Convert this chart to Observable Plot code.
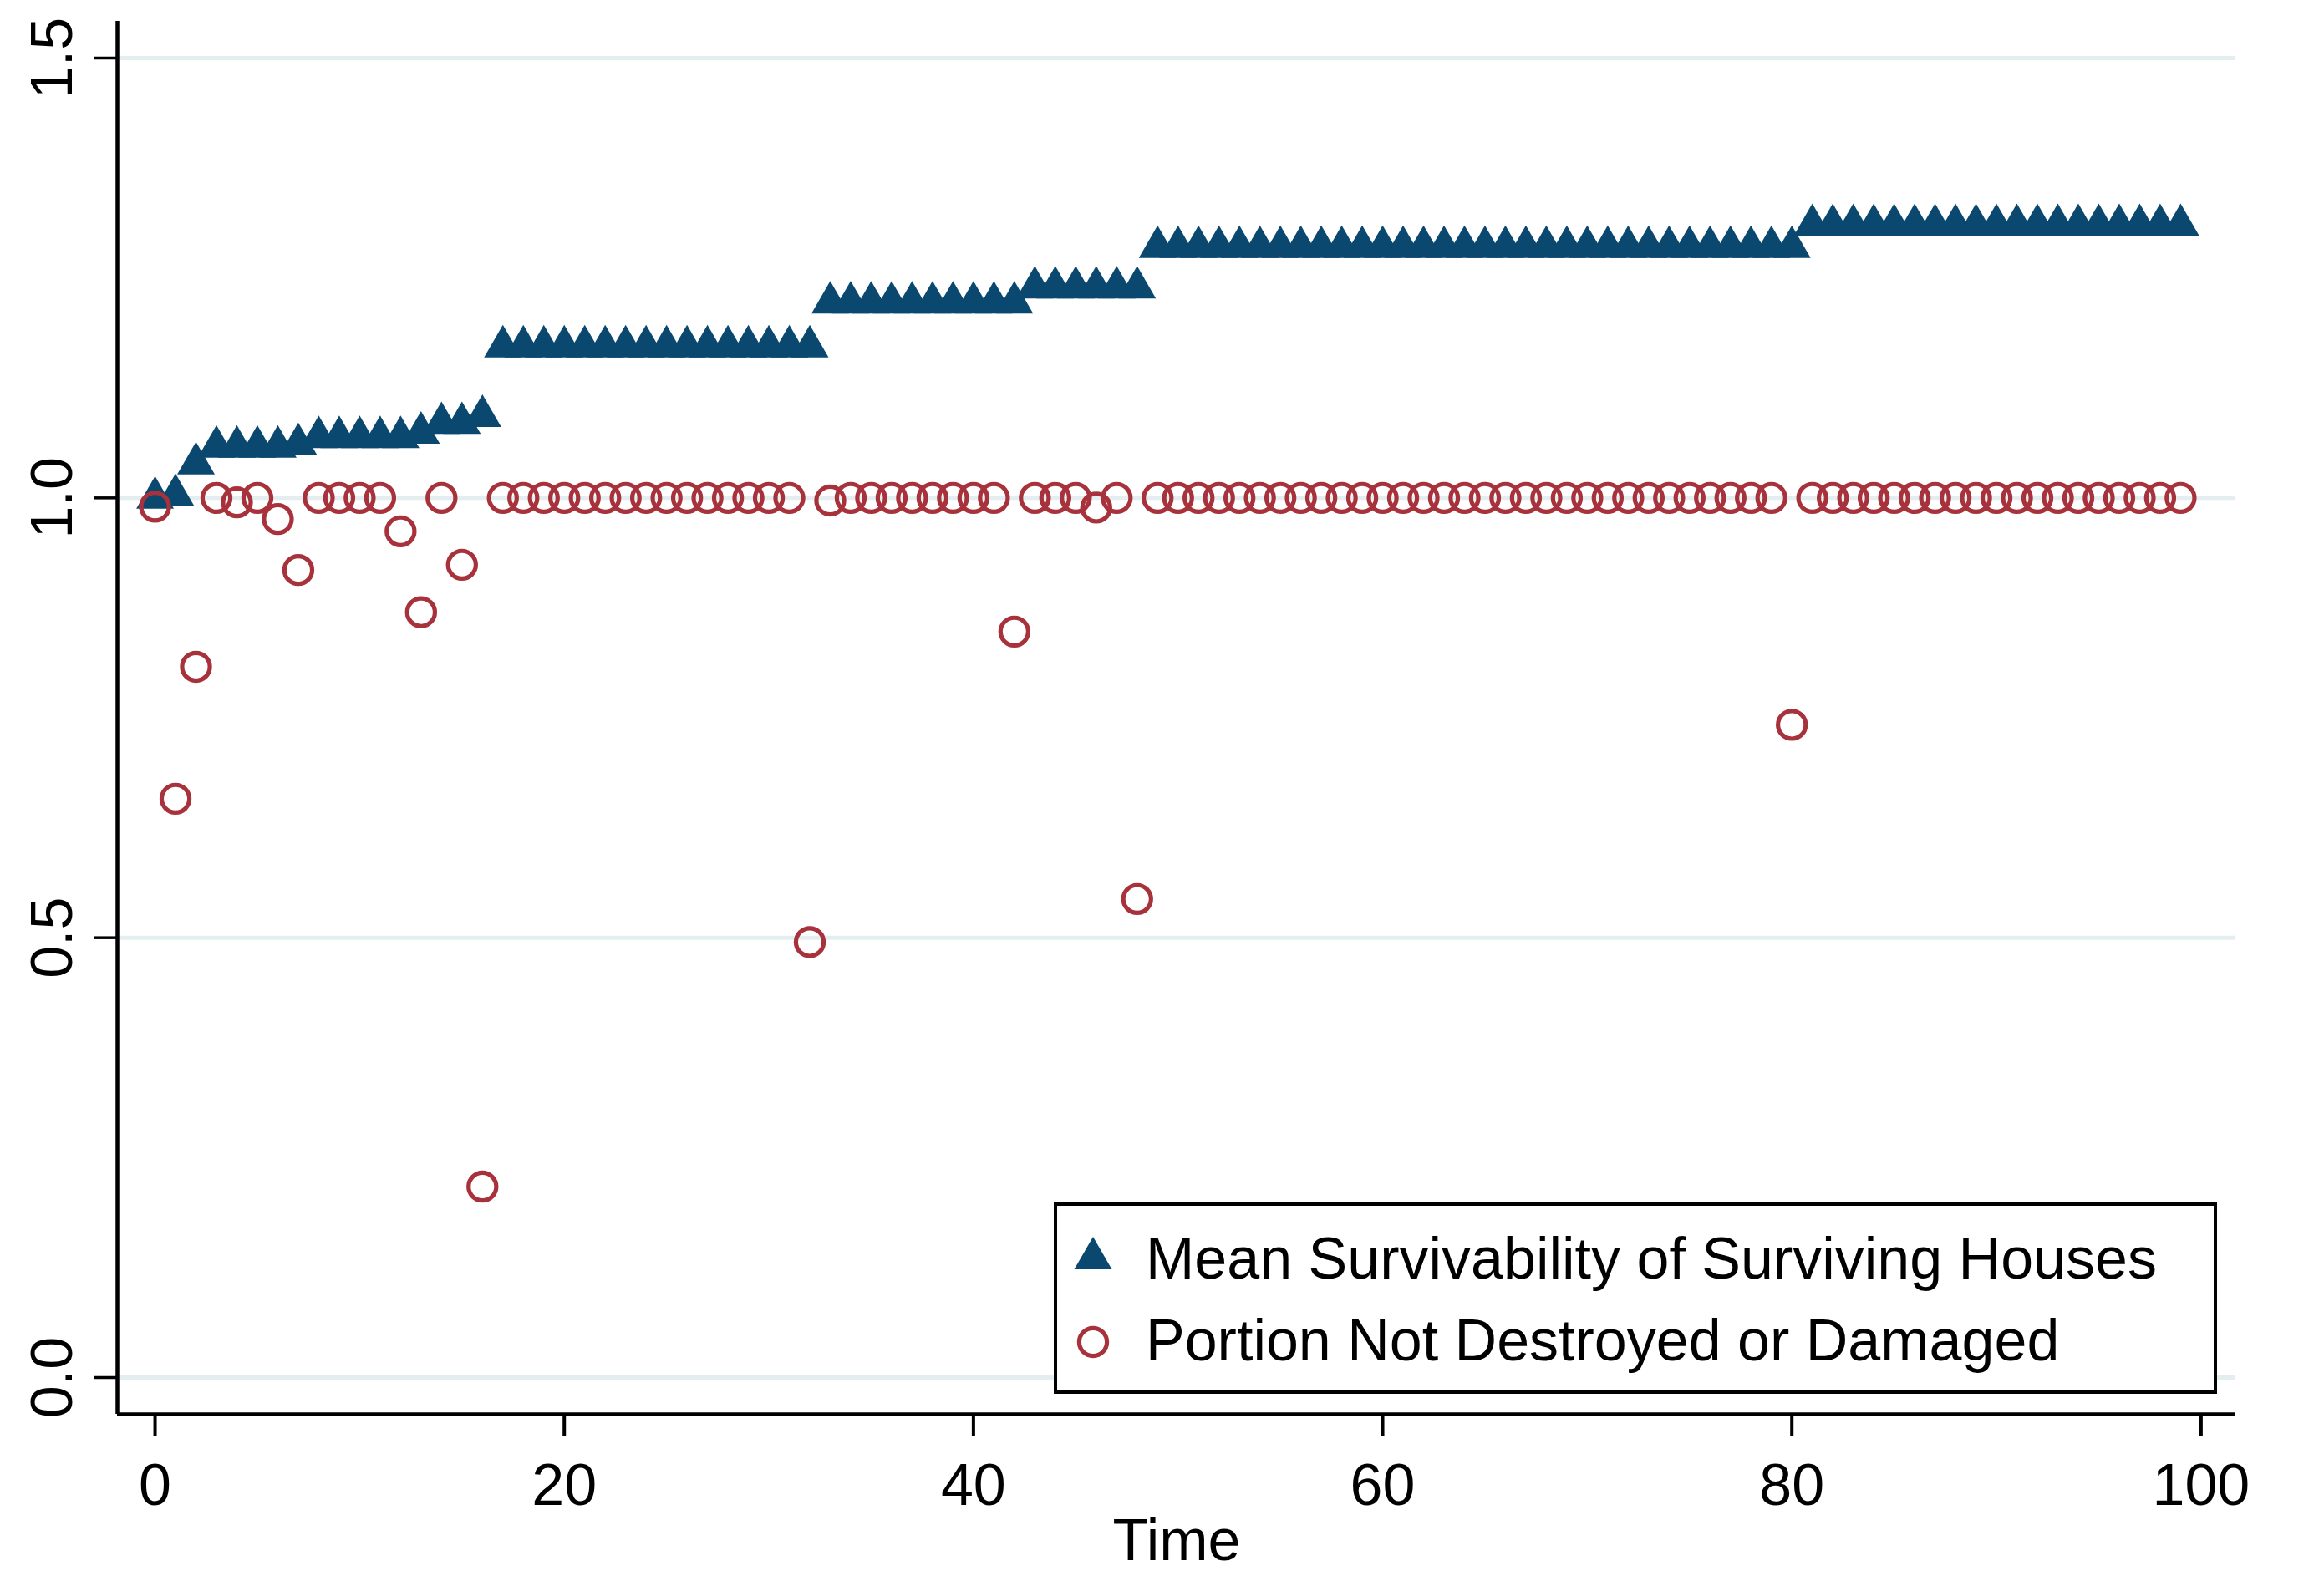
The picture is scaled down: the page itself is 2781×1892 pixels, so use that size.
<!DOCTYPE html>
<html>
<head>
<meta charset="utf-8">
<script src="https://cdn.jsdelivr.net/npm/d3@7"></script>
<script src="https://cdn.jsdelivr.net/npm/@observablehq/plot@0.6"></script>
<style>
  html, body { margin: 0; padding: 0; background: #ffffff; }
  #chart svg { display: block; }
</style>
</head>
<body>
<div id="chart"></div>
<script>
// ---- Data ----
const time = [
  0, 1, 2, 3, 4, 5, 6, 7, 8, 9,
  10, 11, 12, 13, 14, 15, 16, 17, 18, 19,
  20, 21, 22, 23, 24, 25, 26, 27, 28, 29,
  30, 31, 32, 33, 34, 35, 36, 37, 38, 39,
  40, 41, 42, 43, 44, 45, 46, 47, 48, 49,
  50, 51, 52, 53, 54, 55, 56, 57, 58, 59,
  60, 61, 62, 63, 64, 65, 66, 67, 68, 69,
  70, 71, 72, 73, 74, 75, 76, 77, 78, 79,
  80, 81, 82, 83, 84, 85, 86, 87, 88, 89,
  90, 91, 92, 93, 94, 95, 96, 97, 98, 99
];

// Mean Survivability of Surviving Houses (triangles)
const meanSurvivability = [
  1.000, 1.003, 1.039, 1.058, 1.058, 1.058, 1.058, 1.061, 1.069, 1.069,
  1.069, 1.069, 1.069, 1.074, 1.085, 1.085, 1.093, 1.172, 1.172, 1.172,
  1.172, 1.172, 1.172, 1.172, 1.172, 1.172, 1.172, 1.172, 1.172, 1.172,
  1.172, 1.172, 1.172, 1.222, 1.222, 1.222, 1.222, 1.222, 1.222, 1.222,
  1.222, 1.222, 1.222, 1.239, 1.239, 1.239, 1.239, 1.239, 1.239, 1.285,
  1.285, 1.285, 1.285, 1.285, 1.285, 1.285, 1.285, 1.285, 1.285, 1.285,
  1.285, 1.285, 1.285, 1.285, 1.285, 1.285, 1.285, 1.285, 1.285, 1.285,
  1.285, 1.285, 1.285, 1.285, 1.285, 1.285, 1.285, 1.285, 1.285, 1.285,
  1.285, 1.310, 1.310, 1.310, 1.310, 1.310, 1.310, 1.310, 1.310, 1.310,
  1.310, 1.310, 1.310, 1.310, 1.310, 1.310, 1.310, 1.310, 1.310, 1.310
];

// Portion Not Destroyed or Damaged (hollow circles)
const portionNotDamaged = [
  0.990, 0.658, 0.808, 1.000, 0.995, 1.000, 0.976, 0.918, 1.000, 1.000,
  1.000, 1.000, 0.962, 0.870, 1.000, 0.924, 0.217, 1.000, 1.000, 1.000,
  1.000, 1.000, 1.000, 1.000, 1.000, 1.000, 1.000, 1.000, 1.000, 1.000,
  1.000, 1.000, 0.495, 0.997, 1.000, 1.000, 1.000, 1.000, 1.000, 1.000,
  1.000, 1.000, 0.848, 1.000, 1.000, 1.000, 0.989, 1.000, 0.544, 1.000,
  1.000, 1.000, 1.000, 1.000, 1.000, 1.000, 1.000, 1.000, 1.000, 1.000,
  1.000, 1.000, 1.000, 1.000, 1.000, 1.000, 1.000, 1.000, 1.000, 1.000,
  1.000, 1.000, 1.000, 1.000, 1.000, 1.000, 1.000, 1.000, 1.000, 1.000,
  0.742, 1.000, 1.000, 1.000, 1.000, 1.000, 1.000, 1.000, 1.000, 1.000,
  1.000, 1.000, 1.000, 1.000, 1.000, 1.000, 1.000, 1.000, 1.000, 1.000
];

const xTicks = [0, 20, 40, 60, 80, 100];
const yTicks = [0, 0.5, 1.0, 1.5];
const seriesNames = ["Mean Survivability of Surviving Houses", "Portion Not Destroyed or Damaged"];
const xLabel = "Time";

// ---- Styling ----
const navy = "#0b4870";
const maroon = "#a8323c";
const gridColor = "#e4eef1";
const font = "'Liberation Sans', Arial, Helvetica, sans-serif";

const xDomain = [-1.84, 101.7];
const yDomain = [-0.0418, 1.5418];

const triData = time.map((t, i) => ({t, v: meanSurvivability[i]}));
const circData = time.map((t, i) => ({t, v: portionNotDamaged[i]}));

const plot = Plot.plot({
  width: 2781,
  height: 1892,
  marginLeft: 140,
  marginRight: 106,
  marginTop: 25,
  marginBottom: 200,
  style: {fontFamily: font, background: "#ffffff", color: "#000000"},
  x: {domain: xDomain, axis: null},
  y: {domain: yDomain, axis: null},
  marks: [
    Plot.gridY(yTicks, {stroke: gridColor, strokeOpacity: 1, strokeWidth: 5}),
    Plot.ruleX([xDomain[0]], {stroke: "#000", strokeWidth: 4.5}),
    Plot.ruleY([yDomain[0]], {stroke: "#000", strokeWidth: 4.5}),
    Plot.axisY({ticks: yTicks, tickSize: 27, tickFormat: () => "", strokeWidth: 3.5, label: null}),
    Plot.text(yTicks, {
      y: d => d, text: d => d3.format(".1f")(d), frameAnchor: "left", dx: -77,
      rotate: -90, textAnchor: "middle", lineAnchor: "middle", fontSize: 70, fill: "#000"
    }),
    Plot.axisX({ticks: xTicks, tickSize: 26, tickPadding: 33, fontSize: 70, strokeWidth: 4, label: null, tickFormat: d => String(d)}),
    Plot.text([xLabel], {frameAnchor: "bottom", dy: 174, lineAnchor: "bottom", fontSize: 70, fill: "#000"}),
    Plot.dot(triData, {x: "t", y: "v", symbol: "triangle", r: 16.7, fill: navy, stroke: null}),
    Plot.dot(circData, {x: "t", y: "v", symbol: "circle", r: 16.6, fill: "none", stroke: maroon, strokeWidth: 5.2})
  ]
});

document.getElementById("chart").appendChild(plot);

// ---- Legend (inside plot area, bottom right) ----
const svg = d3.select(plot);
const lg = svg.append("g").attr("font-family", font).attr("text-anchor", "start");
const box = {x: 1263, y: 1441, w: 1388, h: 225};
lg.append("rect")
  .attr("x", box.x).attr("y", box.y).attr("width", box.w).attr("height", box.h)
  .attr("fill", "#ffffff").attr("stroke", "#000").attr("stroke-width", 4);
const triSym = d3.symbol(d3.symbolTriangle, Math.PI * 16.7 * 16.7);
lg.append("path").attr("d", triSym()).attr("transform", "translate(1308,1506)").attr("fill", navy);
lg.append("circle").attr("cx", 1308).attr("cy", 1606).attr("r", 16.6)
  .attr("fill", "none").attr("stroke", maroon).attr("stroke-width", 5.2);
lg.append("text").attr("x", 1371).attr("y", 1530).attr("font-size", 70).attr("fill", "#000").attr("text-anchor", "start").text(seriesNames[0]);
lg.append("text").attr("x", 1371).attr("y", 1628).attr("font-size", 70).attr("fill", "#000").attr("text-anchor", "start").text(seriesNames[1]);
</script>
</body>
</html>
